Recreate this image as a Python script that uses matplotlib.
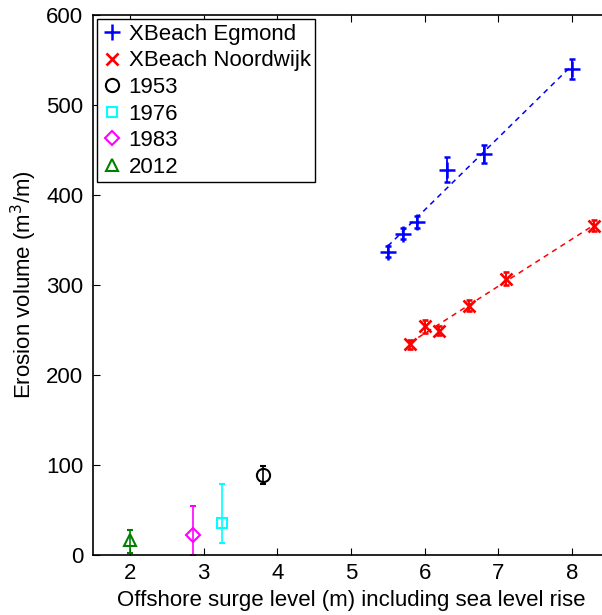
import numpy as np
import matplotlib
matplotlib.use("Agg")
import matplotlib.pyplot as plt

plt.rcParams["font.family"] = ["Liberation Sans", "DejaVu Sans"]

# ---------------------------------------------------------------------------
# Data

egmond_x   = [5.5, 5.7, 5.9, 6.3, 6.8, 8.0]
egmond_y   = [337, 357, 370, 428, 445, 540]
egmond_err = [6, 6, 7, 14, 10, 11]

noordwijk_x   = [5.8, 6.0, 6.2, 6.6, 7.1, 8.3]
noordwijk_y   = [234, 254, 249, 277, 307, 366]
noordwijk_err = [5, 7, 5, 6, 7, 6]

hist_labels = ["1953", "1976", "1983", "2012"]
hist_x      = [3.8, 3.25, 2.85, 2.0]
hist_y      = [89, 35, 22, 17]
hist_lo     = [10, 22, 22, 15]
hist_hi     = [10, 44, 32, 11]
hist_style  = [("o", "black", 9.5), ("s", "cyan", 7.5), ("D", "magenta", 7.5), ("^", "green", 9)]

# ---------------------------------------------------------------------------
# Plot

fig = plt.figure(figsize=(6.02, 6.15), dpi=100)
ax = fig.add_axes([0.1545, 0.0976, 0.857, 0.878])

handles = []
eb = ax.errorbar(egmond_x, egmond_y, yerr=egmond_err, fmt="+", color="blue",
                 ms=12, mew=1.8, elinewidth=1.3, capsize=2, capthick=1.3,
                 label="XBeach Egmond")
handles.append(eb[0])
eb = ax.errorbar(noordwijk_x, noordwijk_y, yerr=noordwijk_err, fmt="x", color="red",
                 ms=8.5, mew=1.9, elinewidth=1.4, capsize=2, capthick=1.3,
                 label="XBeach Noordwijk")
handles.append(eb[0])

# linear fits
for xs, ys, c in [(egmond_x, egmond_y, "blue"), (noordwijk_x, noordwijk_y, "red")]:
    p = np.polyfit(xs, ys, 1)
    xx = np.array([min(xs), max(xs)])
    ax.plot(xx, np.polyval(p, xx), color=c, lw=1.1, dashes=(3.5, 3))

for lab, x, y, lo, hi, (m, c, ms) in zip(hist_labels, hist_x, hist_y,
                                         hist_lo, hist_hi, hist_style):
    eb = ax.errorbar([x], [y], yerr=[[lo], [hi]], fmt=m, color=c, mfc="none",
                     ms=ms, mew=1.5, elinewidth=1.2, capsize=2, capthick=1.2,
                     label=lab)
    handles.append(eb[0])

ax.set_xlim(1.5, 8.5)
ax.set_ylim(0, 600)
ax.set_xticks(range(2, 9))
ax.set_yticks(range(0, 601, 100))
ax.tick_params(direction="in", top=True, right=True, length=5, labelsize=16)
ax.tick_params(axis="y", pad=7)
ax.tick_params(axis="x", pad=6)
for s in ax.spines.values():
    s.set_linewidth(1.2)

ax.set_xlabel("Offshore surge level (m) including sea level rise", fontsize=16, labelpad=4)
ax.set_ylabel("Erosion volume (m$^3$/m)", fontsize=16, labelpad=5)

leg = ax.legend(handles=handles, labels=["XBeach Egmond", "XBeach Noordwijk"] + hist_labels,
                loc="upper left", fontsize=16, frameon=True, fancybox=False,
                edgecolor="black", framealpha=1, handlelength=0.9, handletextpad=0.3,
                labelspacing=0.25, borderaxespad=0.2, borderpad=0.2)
leg.get_frame().set_linewidth(1.0)

fig.savefig("out.png", dpi=100)
